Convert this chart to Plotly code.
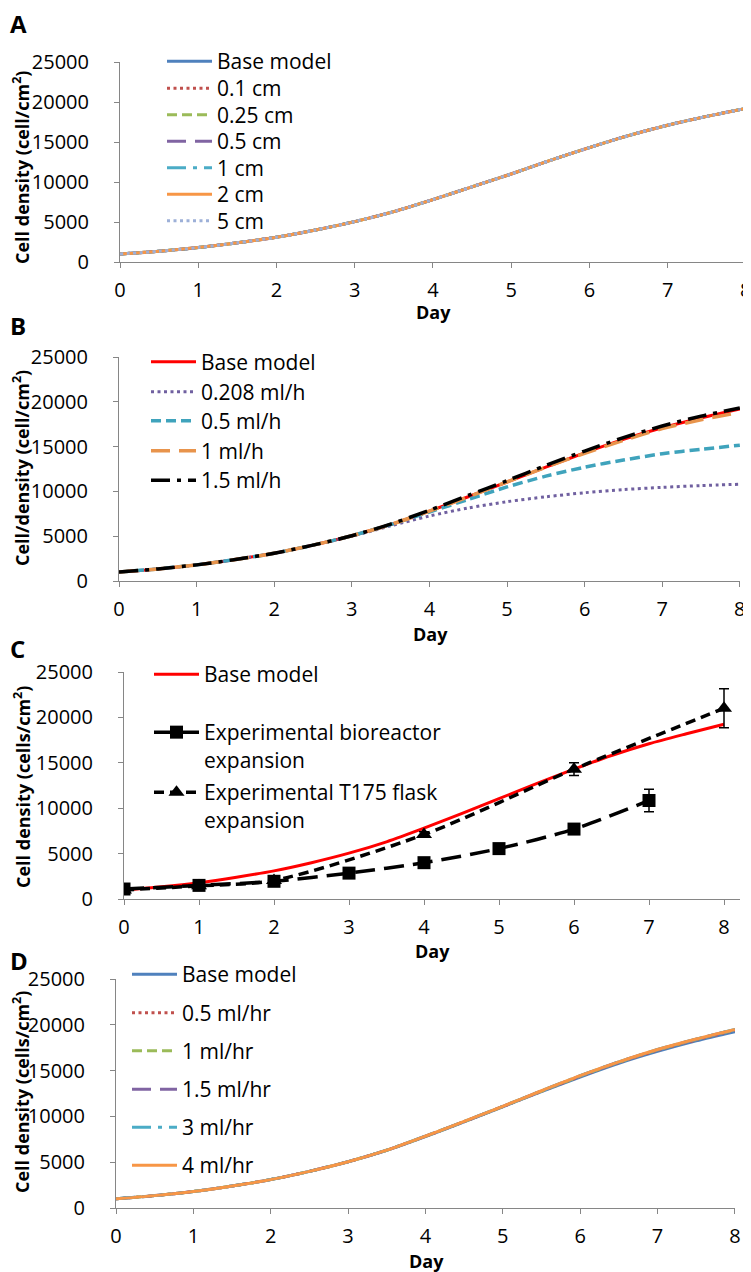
import plotly.graph_objects as go

# ---------------- data ----------------
days = [0, 0.5, 1, 1.5, 2, 2.5, 3, 3.5, 4, 4.5, 5, 5.5, 6, 6.5, 7, 7.5, 8]

# Panel A (distance variations) - all practically identical to base
a_base = [1000, 1350, 1800, 2400, 3100, 4000, 5050, 6300, 7800, 9400, 11000, 12700, 14300, 15800, 17100, 18200, 19200]
a_01 = [1000, 1350, 1800, 2400, 3100, 4000, 5050, 6300, 7800, 9400, 11000, 12700, 14300, 15800, 17100, 18200, 19200]
a_025 = [1000, 1350, 1800, 2400, 3100, 4000, 5050, 6300, 7800, 9400, 11000, 12700, 14300, 15800, 17100, 18200, 19200]
a_05 = [1000, 1350, 1800, 2400, 3100, 4000, 5050, 6300, 7800, 9400, 11000, 12700, 14300, 15800, 17100, 18200, 19200]
a_1 = [1000, 1350, 1800, 2400, 3100, 4000, 5050, 6300, 7800, 9400, 11000, 12700, 14300, 15800, 17100, 18200, 19200]
a_2 = [1000, 1350, 1800, 2400, 3100, 4000, 5050, 6300, 7800, 9400, 11000, 12700, 14300, 15800, 17100, 18200, 19200]
a_5 = [1000, 1350, 1800, 2400, 3100, 4000, 5050, 6300, 7800, 9400, 11000, 12700, 14300, 15800, 17100, 18200, 19200]
a_names = ["Base model", "0.1 cm", "0.25 cm", "0.5 cm", "1 cm", "2 cm", "5 cm"]

# Panel B (flow rate variations)
b_base = [1000, 1350, 1800, 2400, 3100, 4000, 5050, 6300, 7800, 9400, 11050, 12700, 14300, 15800, 17100, 18200, 19200]
b_0208 = [1000, 1350, 1800, 2400, 3100, 4000, 5000, 6150, 7250, 8150, 8850, 9400, 9850, 10200, 10450, 10650, 10800]
b_05 = [1000, 1350, 1800, 2400, 3100, 4000, 5050, 6300, 7700, 9100, 10500, 11700, 12700, 13500, 14200, 14700, 15150]
b_1 = [1000, 1350, 1800, 2400, 3100, 4000, 5050, 6300, 7800, 9400, 11050, 12700, 14250, 15700, 17000, 18000, 18800]
b_15 = [1000, 1350, 1800, 2400, 3100, 4000, 5050, 6350, 7900, 9550, 11200, 12900, 14500, 16000, 17300, 18400, 19300]
b_names = ["Base model", "0.208 ml/h", "0.5 ml/h", "1 ml/h", "1.5 ml/h"]

# Panel C (model vs experiment)
c_base = [1000, 1350, 1800, 2400, 3100, 4000, 5050, 6300, 7800, 9400, 11050, 12700, 14300, 15800, 17100, 18200, 19250]
bior_days = [0, 1, 2, 3, 4, 5, 6, 7]
bior = [1100, 1500, 1950, 2850, 4000, 5550, 7700, 10850]
bior_err = [150, 150, 200, 200, 250, 300, 450, 1250]
t175_days = [0, 1, 2, 4, 6, 8]
t175 = [1000, 1450, 2050, 7100, 14300, 21000]
t175_err = [100, 100, 150, 300, 700, 2150]
c_names = ["Base model", "Experimental bioreactor<br>expansion", "Experimental T175 flask<br>expansion"]

# Panel D (flow rate variations, second set)
d_base = [1000, 1350, 1800, 2400, 3100, 4000, 5050, 6300, 7800, 9400, 11050, 12700, 14300, 15800, 17100, 18250, 19250]
d_05 = [1000, 1350, 1800, 2400, 3100, 4000, 5050, 6310, 7820, 9420, 11070, 12740, 14360, 15880, 17220, 18350, 19400]
d_1 = [1000, 1350, 1800, 2400, 3100, 4000, 5050, 6310, 7830, 9430, 11080, 12760, 14400, 15920, 17260, 18400, 19450]
d_15 = [1000, 1350, 1800, 2400, 3100, 4000, 5050, 6310, 7840, 9440, 11090, 12780, 14420, 15940, 17280, 18420, 19480]
d_3 = [1000, 1350, 1800, 2400, 3100, 4000, 5050, 6320, 7850, 9450, 11100, 12790, 14440, 15950, 17300, 18440, 19500]
d_4 = [1000, 1350, 1800, 2400, 3100, 4000, 5050, 6320, 7850, 9450, 11100, 12800, 14450, 15950, 17300, 18450, 19500]
d_names = ["Base model", "0.5 ml/hr", "1 ml/hr", "1.5 ml/hr", "3 ml/hr", "4 ml/hr"]

y_ticks = [0, 5000, 10000, 15000, 20000, 25000]
y_labels = ["0", "5000", "10000", "15000", "20000", "25000"]
x_ticks = [0, 1, 2, 3, 4, 5, 6, 7, 8]
x_labels = ["0", "1", "2", "3", "4", "5", "6", "7", "8"]

# ---------------- layout helpers ----------------
# The page body adds an 8px margin, so the figure is drawn 8px in from the window corner.
OFF = 8
W, H = 751 - OFF, 1272 - OFF


def px(x):
    return (x - OFF) / W


def py(y):
    return 1 - (y - OFF) / H


FONT = "Open Sans"
FS = 21
TICKFONT = dict(family=FONT, size=20, color="black")
AXC = "#868686"

DOT = "3px,3.5px"
DASH = "10px,5px"
LDASH = "19px,9px"
LDASHDOT = "19px,7px,4px,7px"

fig = go.Figure()
legends = {}
leg_count = [0]


def new_legend(text_x, first_line_y):
    leg_count[0] += 1
    key = "legend" if leg_count[0] == 1 else "legend%d" % leg_count[0]
    legends[key] = dict(x=px(text_x - 55), y=py(first_line_y - 21), xanchor="left", yanchor="top",
                        bgcolor="rgba(0,0,0,0)", font=dict(family=FONT, size=FS, color="black"),
                        itemwidth=45, valign="top", itemclick=False, itemdoubleclick=False)
    return key


def add_line(y, name, color, dash, xa, ya, leg, width=3, x=days):
    fig.add_trace(go.Scatter(
        x=x, y=y, name=name, mode="lines",
        line=dict(color=color, width=width, dash=dash, shape="spline", smoothing=0.8),
        xaxis=xa, yaxis=ya, legend=leg,
    ))


# Panel A
a_cols = ["#4F81BD", "#C0504D", "#9BBB59", "#8064A2", "#4BACC6", "#F79646", "#9DB0D8"]
a_dash = ["solid", DOT, DASH, LDASH, LDASHDOT, "solid", DOT]
a_leg_y = [62, 89, 115.5, 142, 168.5, 195, 221.5]
for vals, nm, c, d, ly in zip([a_base, a_01, a_025, a_05, a_1, a_2, a_5], a_names, a_cols, a_dash, a_leg_y):
    add_line(vals, nm, c, d, "x", "y", new_legend(217, ly))

# Panel B
b_cols = ["#FF0000", "#7060A0", "#3FA3BC", "#E8944C", "#000000"]
b_dash = ["solid", DOT, DASH, LDASH, LDASHDOT]
b_w = [3, 3, 3.5, 3.5, 3.5]
b_leg_y = [362.5, 392.5, 421.5, 451.5, 481]
for vals, nm, c, d, w, ly in zip([b_base, b_0208, b_05, b_1, b_15], b_names, b_cols, b_dash, b_w, b_leg_y):
    add_line(vals, nm, c, d, "x2", "y2", new_legend(201, ly), width=w)

# Panel C
add_line(c_base, c_names[0], "#FF0000", "solid", "x3", "y3", new_legend(204, 675))
leg_bior = new_legend(204, 733)
leg_t175 = new_legend(204, 793)
fig.add_trace(go.Scatter(
    x=t175_days, y=t175, name=c_names[2], mode="lines+markers",
    line=dict(color="black", width=3.5, dash="10px,6px", shape="spline", smoothing=0.8),
    marker=dict(symbol="triangle-up", size=14, color="black"),
    error_y=dict(type="data", array=t175_err, color="black", thickness=1.5, width=5),
    xaxis="x3", yaxis="y3", legend=leg_t175,
))
fig.add_trace(go.Scatter(
    x=bior_days, y=bior, name=c_names[1], mode="lines+markers",
    line=dict(color="black", width=3.5, dash="20px,9px", shape="spline", smoothing=0.8),
    marker=dict(symbol="square", size=13, color="black"),
    error_y=dict(type="data", array=bior_err, color="black", thickness=1.5, width=5),
    xaxis="x3", yaxis="y3", legend=leg_bior,
))

# Panel D
d_cols = ["#4F81BD", "#C0504D", "#9BBB59", "#8064A2", "#4BACC6", "#F79646"]
d_dash = ["solid", DOT, DASH, LDASH, LDASHDOT, "solid"]
d_leg_y = [975, 1013.5, 1051.5, 1090, 1128, 1166]
for vals, nm, c, d, ly in zip([d_base, d_05, d_1, d_15, d_3, d_4], d_names, d_cols, d_dash, d_leg_y):
    add_line(vals, nm, c, d, "x4", "y4", new_legend(182, ly))


def xaxis(domain, anchor, rng):
    return dict(domain=domain, anchor=anchor, range=rng, tickvals=x_ticks, ticktext=x_labels,
                showline=True, linecolor=AXC, linewidth=1, ticks="outside", ticklen=5,
                tickcolor=AXC, showgrid=False, zeroline=False, tickfont=TICKFONT,
                ticklabelstandoff=5, ticklabeloverflow="allow", fixedrange=True, automargin=False)


def yaxis(domain, anchor):
    return dict(domain=domain, anchor=anchor, range=[0, 25000], tickvals=y_ticks, ticktext=y_labels,
                showline=True, linecolor=AXC, linewidth=1, ticks="outside", ticklen=5,
                tickcolor=AXC, showgrid=False, zeroline=False, tickfont=TICKFONT,
                ticklabelstandoff=21, ticklabeloverflow="allow", fixedrange=True, automargin=False)


panels = {
    # name: (left, right, top(25000), bottom(0), xmax)
    "A": (120, 746, 62, 262, 8.002),
    "B": (119, 740, 357, 581, 8.002),
    "C": (124, 740, 672, 899, 8 * (740 - 124) / (724 - 124)),
    "D": (116, 735, 979, 1208, 8.002),
}

layout_axes = {}
for i, k in enumerate(["A", "B", "C", "D"]):
    l, r, t, b, xm = panels[k]
    sfx = "" if i == 0 else str(i + 1)
    layout_axes["xaxis" + sfx] = xaxis([px(l), px(r)], "y" + sfx, [0, xm])
    layout_axes["yaxis" + sfx] = yaxis([py(b), py(t)], "x" + sfx)

annotations = []
# panel letters
for letter, (x, y) in {"A": (8, 24), "B": (8, 325), "C": (8, 648), "D": (8, 960)}.items():
    annotations.append(dict(text="<b>%s</b>" % letter, x=px(x), y=py(y), xref="paper", yref="paper",
                            xanchor="left", yanchor="middle", showarrow=False,
                            font=dict(family=FONT, size=24, color="black")))
# y titles
ytitles = [("Cell density (cell/cm<sup>2</sup>)", 21, 168),
           ("Cell/density (cell/cm<sup>2</sup>)", 21, 468),
           ("Cell density (cells/cm<sup>2</sup>)", 22, 787),
           ("Cell density (cells/cm<sup>2</sup>)", 21, 1092)]
for t, x, y in ytitles:
    annotations.append(dict(text="<b>%s</b>" % t, x=px(x), y=py(y), xref="paper", yref="paper",
                            xanchor="center", yanchor="middle", textangle=-90, showarrow=False,
                            font=dict(family=FONT, size=18, color="black")))
# x titles
for x, y in [(433, 312), (430, 634), (432, 951), (426, 1261)]:
    annotations.append(dict(text="<b>Day</b>", x=px(x), y=py(y), xref="paper", yref="paper",
                            xanchor="center", yanchor="middle", showarrow=False,
                            font=dict(family=FONT, size=18, color="black")))

fig.update_layout(
    width=W, height=H, margin=dict(l=0, r=0, t=0, b=0, autoexpand=False),
    paper_bgcolor="white", plot_bgcolor="white",
    showlegend=True,
    annotations=annotations,
    **legends,
    **layout_axes,
)

fig.write_html("out.html")
